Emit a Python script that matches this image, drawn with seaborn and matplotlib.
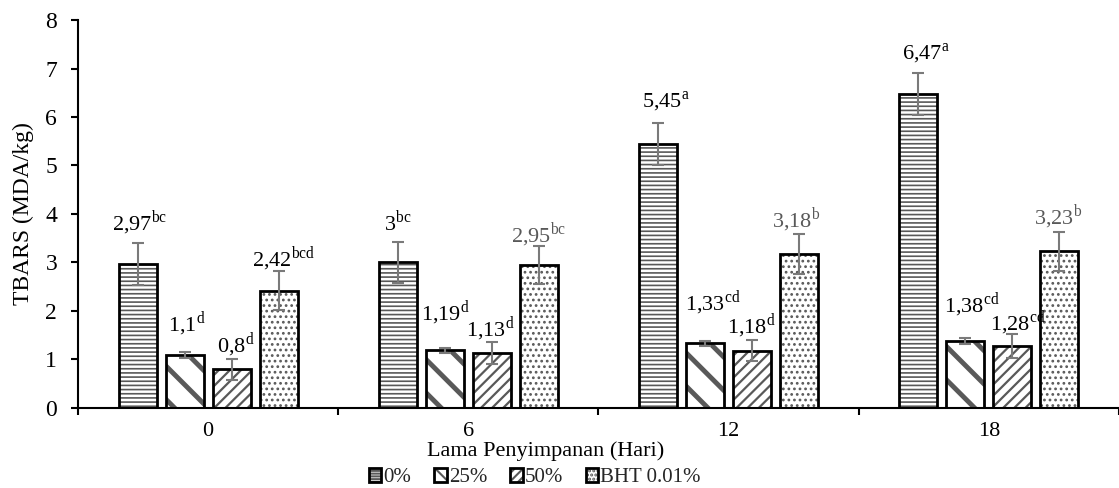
import numpy as np
import pandas as pd
import seaborn as sns
import matplotlib.pyplot as plt
import matplotlib.patches as mpatches
from matplotlib.legend_handler import HandlerTuple

# data
days = ['0', '6', '12', '18']
treatments = ['0%', '25%', '50%', 'BHT 0.01%']

tbars_0 = [2.97, 3.00, 5.45, 6.47]
tbars_25 = [1.10, 1.19, 1.33, 1.38]
tbars_50 = [0.80, 1.13, 1.18, 1.28]
tbars_bht = [2.42, 2.95, 3.18, 3.23]

sd_0 = [0.43, 0.43, 0.43, 0.43]
sd_25 = [0.06, 0.05, 0.05, 0.07]
sd_50 = [0.22, 0.22, 0.22, 0.24]
sd_bht = [0.40, 0.40, 0.41, 0.40]

notes_0 = ['bc', 'bc', 'a', 'a']
notes_25 = ['d', 'd', 'cd', 'cd']
notes_50 = ['d', 'd', 'd', 'cd']
notes_bht = ['bcd', 'bc', 'b', 'b']

values = [tbars_0, tbars_25, tbars_50, tbars_bht]
sds = [sd_0, sd_25, sd_50, sd_bht]
notes = [notes_0, notes_25, notes_50, notes_bht]

# label placement (hand-moved in the original)
label_lift = [[0.27, 0.22, 0.31, 0.28],
              [0.41, 0.57, 0.64, 0.53],
              [0.13, 0.13, 0.13, 0.09],
              [0.11, 0.07, 0.14, 0.16]]
label_shift = [[2, 0, 8, 8],
               [2, 0, 8, 6],
               [4, -2, -1, 5],
               [5, 0, -3, -1]]
label_grey = [[False] * 4, [False] * 4, [False] * 4, [False, True, True, True]]

hatches = ['----', '\\', '///', '...']
legend_hatches = ['------', '\\\\', '////', '....']
hatch_lw = [1.2, 3.5, 1.6, 1.2]
HATCH_COLOR = '#595959'
FS = 16

df = pd.DataFrame({
    'hari': days * 4,
    'perlakuan': np.repeat(treatments, 4),
    'tbars': tbars_0 + tbars_25 + tbars_50 + tbars_bht,
})

sns.set_style('ticks')
plt.rcParams['font.family'] = ['Liberation Serif', 'DejaVu Serif']
plt.rcParams['mathtext.fontset'] = 'custom'
plt.rcParams['mathtext.rm'] = 'Liberation Serif'
plt.rcParams['hatch.linewidth'] = 1.5

fig, ax = plt.subplots(figsize=(11.19, 4.88), dpi=100)
fig.subplots_adjust(left=0.0697, right=1.0, bottom=0.164, top=0.959)

kw = dict(data=df, x='hari', y='tbars', hue='perlakuan', order=days, hue_order=treatments,
          width=0.723, gap=0.19, errorbar=None, legend=False, palette=['white'] * 4, ax=ax)

# hatched fill (grey hatch), then black outline on top
sns.barplot(linewidth=0, **kw)
fills = list(ax.containers)
sns.barplot(linewidth=2.0, **kw)
outlines = list(ax.containers[4:])

for cont, h, lw in zip(fills, hatches, hatch_lw):
    for bar in cont:
        bar.set_hatch(h)
        bar.set_edgecolor(HATCH_COLOR)
        bar.set_linewidth(0)
        if hasattr(bar, 'set_hatch_linewidth'):
            bar.set_hatch_linewidth(lw)
for cont in outlines:
    for bar in cont:
        bar.set_facecolor('none')
        bar.set_edgecolor('black')
        bar.set_zorder(3)

for i, cont in enumerate(fills):
    xs = [b.get_x() + b.get_width() / 2 for b in cont]
    ax.errorbar(xs, values[i], yerr=sds[i], fmt='none', ecolor='#7a7a7a',
                elinewidth=1.5, capsize=4.5, capthick=1.5, zorder=4)
    for j, x in enumerate(xs):
        v = values[i][j]
        txt = f'{v:g}'.replace('.', ',') + r'$^{\mathrm{' + notes[i][j] + '}}$'
        ax.annotate(txt, (x, v + sds[i][j] + label_lift[i][j]),
                    xytext=(label_shift[i][j] * 0.72, 0), textcoords='offset points',
                    ha='center', va='baseline', fontsize=16,
                    color=HATCH_COLOR if label_grey[i][j] else 'black')

ax.set_ylim(0, 8)
ax.set_xlim(-0.5, 3.5)
ax.set_yticks(range(0, 9))
ax.set_xticks(range(4))
ax.set_xticklabels(days)
ax.set_xticks([-0.5, 0.5, 1.5, 2.5, 3.5], minor=True)
ax.tick_params(axis='x', which='major', length=0, pad=10, labelsize=FS, colors='black')
ax.tick_params(axis='x', which='minor', length=5, width=1.5, direction='out', color='black')
ax.tick_params(axis='y', length=5, width=1.5, pad=10, labelsize=FS + 1, colors='black')
sns.despine(ax=ax)
for s in ['left', 'bottom']:
    ax.spines[s].set_linewidth(1.5)
    ax.spines[s].set_color('black')

ax.set_xlabel('Lama Penyimpanan (Hari)', fontsize=FS, color='black')
ax.xaxis.set_label_coords(0.449, -0.086)
ax.set_ylabel('TBARS (MDA/kg)', fontsize=FS + 1, color='black')
ax.yaxis.set_label_coords(-0.042, 0.5)

# legend keys: grey hatch under a black square outline
handles = []
for h, lw in zip(legend_hatches, hatch_lw):
    key_fill = mpatches.Patch(facecolor='white', edgecolor=HATCH_COLOR, hatch=h, linewidth=0)
    if hasattr(key_fill, 'set_hatch_linewidth'):
        key_fill.set_hatch_linewidth(min(lw, 2.0))
    key_edge = mpatches.Patch(facecolor='none', edgecolor='black', linewidth=2.0)
    handles.append((key_fill, key_edge))
fig.legend(handles, treatments, loc='center', bbox_to_anchor=(0.478, 0.021), ncol=4,
           frameon=False, handler_map={tuple: HandlerTuple(ndivide=1)},
           handlelength=0.6, handleheight=0.6, handletextpad=0.1, columnspacing=1.1,
           fontsize=15, borderpad=0.2)

fig.savefig('out.png', dpi=100)
